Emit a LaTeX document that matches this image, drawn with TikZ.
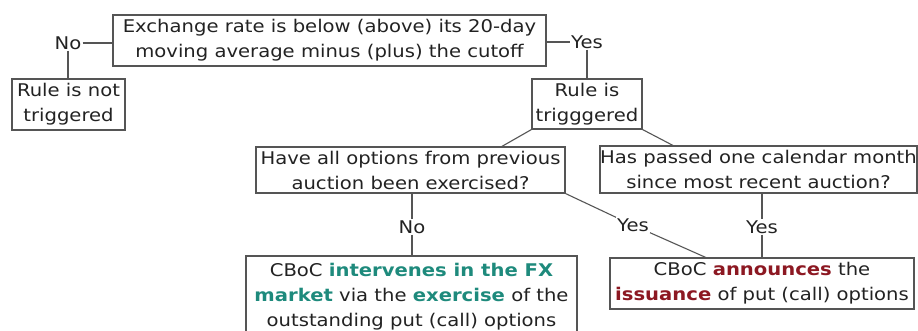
\documentclass[tikz,border=0pt]{standalone}
\usepackage{fontspec}
\setmainfont{DejaVu Sans}[FakeStretch=1.12]
\definecolor{txt}{HTML}{222222}
\definecolor{edge}{HTML}{555555}
\definecolor{teal}{HTML}{1E8A7C}
\definecolor{wine}{HTML}{8C1822}
\begin{document}
\begin{tikzpicture}[x=1pt,y=-1pt,
  every node/.style={text=txt,font=\fontsize{17.5}{25}\selectfont},
  box/.style={draw=edge,line width=1.1pt,align=center,inner sep=0pt,anchor=center},
  lbl/.style={inner sep=1pt,anchor=center},
  link/.style={draw=edge,line width=1.1pt}]
\useasboundingbox (0,0) rectangle (918,331);
\clip (0,0) rectangle (918,331);

% decision boxes
\node[box,minimum width=433pt,minimum height=51pt] (top) at (329.5,40.5)
  {Exchange rate is below (above) its 20-day\\moving average minus (plus) the cutoff};
\node[box,minimum width=113pt,minimum height=51pt] (notrig) at (68.5,104.5)
  {Rule is not\\triggered};
\node[box,minimum width=110pt,minimum height=50pt] (trig) at (587,104)
  {Rule is\\trigggered};
\node[box,minimum width=309pt,minimum height=46pt] (q1) at (410.5,170)
  {Have all options from previous\\auction been exercised?};
\node[box,minimum width=317pt,minimum height=47pt] (q2) at (758.5,169.5)
  {Has passed one calendar month\\since most recent auction?};
\node[box,minimum width=331pt,minimum height=82pt] (act1) at (411.5,297)
  {CBoC \textbf{\textcolor{teal}{intervenes in the FX}}\\
   \textbf{\textcolor{teal}{market}} via the \textbf{\textcolor{teal}{exercise}} of the\\
   outstanding put (call) options};
\node[box,minimum width=304pt,minimum height=51pt] (act2) at (762,283.5)
  {CBoC \textbf{\textcolor{wine}{announces}} the\\
   \textbf{\textcolor{wine}{issuance}} of put (call) options};

% branch labels
\node[lbl] (no1) at (68,43) {No};
\node[lbl] (yes1) at (587,42) {Yes};
\node[lbl] (no2) at (412,227) {No};
\node[lbl] (yes2) at (633,225) {Yes};
\node[lbl] (yes3) at (762,227) {Yes};

% attachment points on box edges
\coordinate (q1in) at (500,147.5);
\coordinate (q2in) at (675,146.5);
\coordinate (act2in) at (707,258);

% connectors
\draw[link] (no1.east) -- (no1.east -| top.west);
\draw[link] (no1.south) -- (no1.south |- notrig.north);
\draw[link] (yes1.west -| top.east) -- (yes1.west);
\draw[link] (yes1.south) -- (yes1.south |- trig.north);
\draw[link] (trig.south west) -- (q1in);
\draw[link] (trig.south east) -- (q2in);
\draw[link] (no2.north |- q1.south) -- (no2.north);
\draw[link] (no2.south) -- (no2.south |- act1.north);
\draw[link] (q1.south east) -- (yes2.north west);
\draw[link] (yes2.south east) -- (act2in);
\draw[link] (yes3.north |- q2.south) -- (yes3.north);
\draw[link] (yes3.south) -- (act2.north);
\end{tikzpicture}
\end{document}
